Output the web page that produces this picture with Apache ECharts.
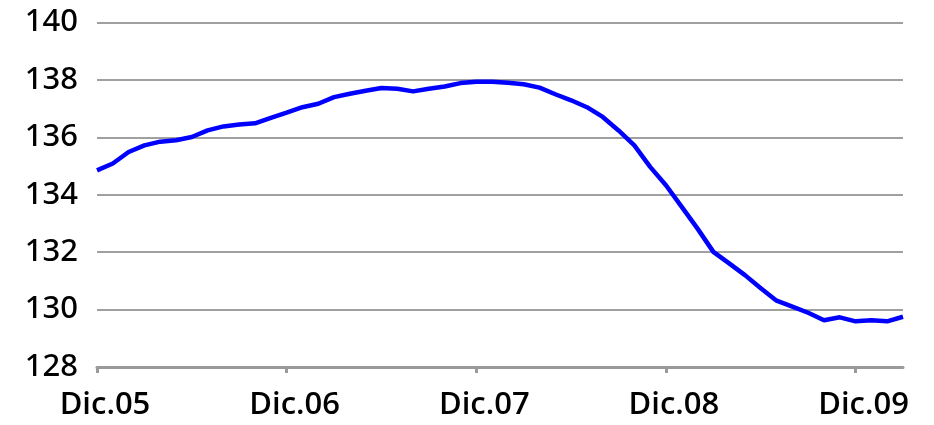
<!DOCTYPE html>
<html>
<head>
<meta charset="utf-8">
<script src="https://cdn.jsdelivr.net/npm/echarts@6/dist/echarts.min.js"></script>
<style>html,body{margin:0;padding:0;background:#fff}#c{width:934px;height:425px}</style>
</head>
<body>
<div id="c"></div>
<script>
const months = ['Ene','Feb','Mar','Abr','May','Jun','Jul','Ago','Sep','Oct','Nov','Dic'];
// Monthly categories from Dic.05 to Mar.10
const categories = [];
for (let y = 5, m = 11; categories.length < 52; ) {
  categories.push(months[m] + '.' + String(y).padStart(2, '0'));
  m++; if (m === 12) { m = 0; y++; }
}
const values = [
  134.85, 135.09, 135.49, 135.72, 135.85, 135.90, 136.01, 136.24, 136.38, 136.45, 136.49, 136.68,
  136.86, 137.05, 137.17, 137.40, 137.52, 137.62, 137.72, 137.69, 137.60, 137.69, 137.77, 137.89,
  137.94, 137.94, 137.90, 137.85, 137.73, 137.50, 137.29, 137.05, 136.71, 136.24, 135.72, 134.97,
  134.33, 133.58, 132.82, 132.01, 131.61, 131.20, 130.74, 130.31, 130.10, 129.89, 129.63, 129.73,
  129.59, 129.63, 129.59, 129.75
];
const yTicks = [128, 130, 132, 134, 136, 138, 140];

const chart = echarts.init(document.getElementById('c'), null, {renderer: 'canvas'});
chart.setOption({
  animation: false,
  grid: {left: 97, right: 31, top: 22.5, bottom: 58, containLabel: false},
  xAxis: {
    type: 'category',
    data: categories,
    boundaryGap: false,
    axisLine: {show: true, lineStyle: {color: '#9a9a9a', width: 3}},
    axisTick: {show: true, interval: 11, length: 6, lineStyle: {color: '#9a9a9a', width: 3}},
    axisLabel: {
      interval: 11,
      color: '#000',
      fontFamily: 'Open Sans',
      fontWeight: 600,
      fontSize: 31,
      margin: 23,
      padding: [0, 0, 0, 16]
    },
    splitLine: {show: false}
  },
  yAxis: {
    type: 'value',
    min: yTicks[0],
    max: yTicks[yTicks.length - 1],
    interval: 2,
    axisLine: {show: false},
    axisTick: {show: false},
    axisLabel: {color: '#000', fontFamily: 'Noto Sans', fontWeight: 500, fontSize: 31, margin: 19},
    splitLine: {lineStyle: {color: '#a0a0a0', width: 2}}
  },
  series: [{
    type: 'line',
    data: values,
    showSymbol: false,
    lineStyle: {color: '#0000ff', width: 4.5},
    itemStyle: {color: '#0000ff'}
  }]
});
</script>
</body>
</html>
